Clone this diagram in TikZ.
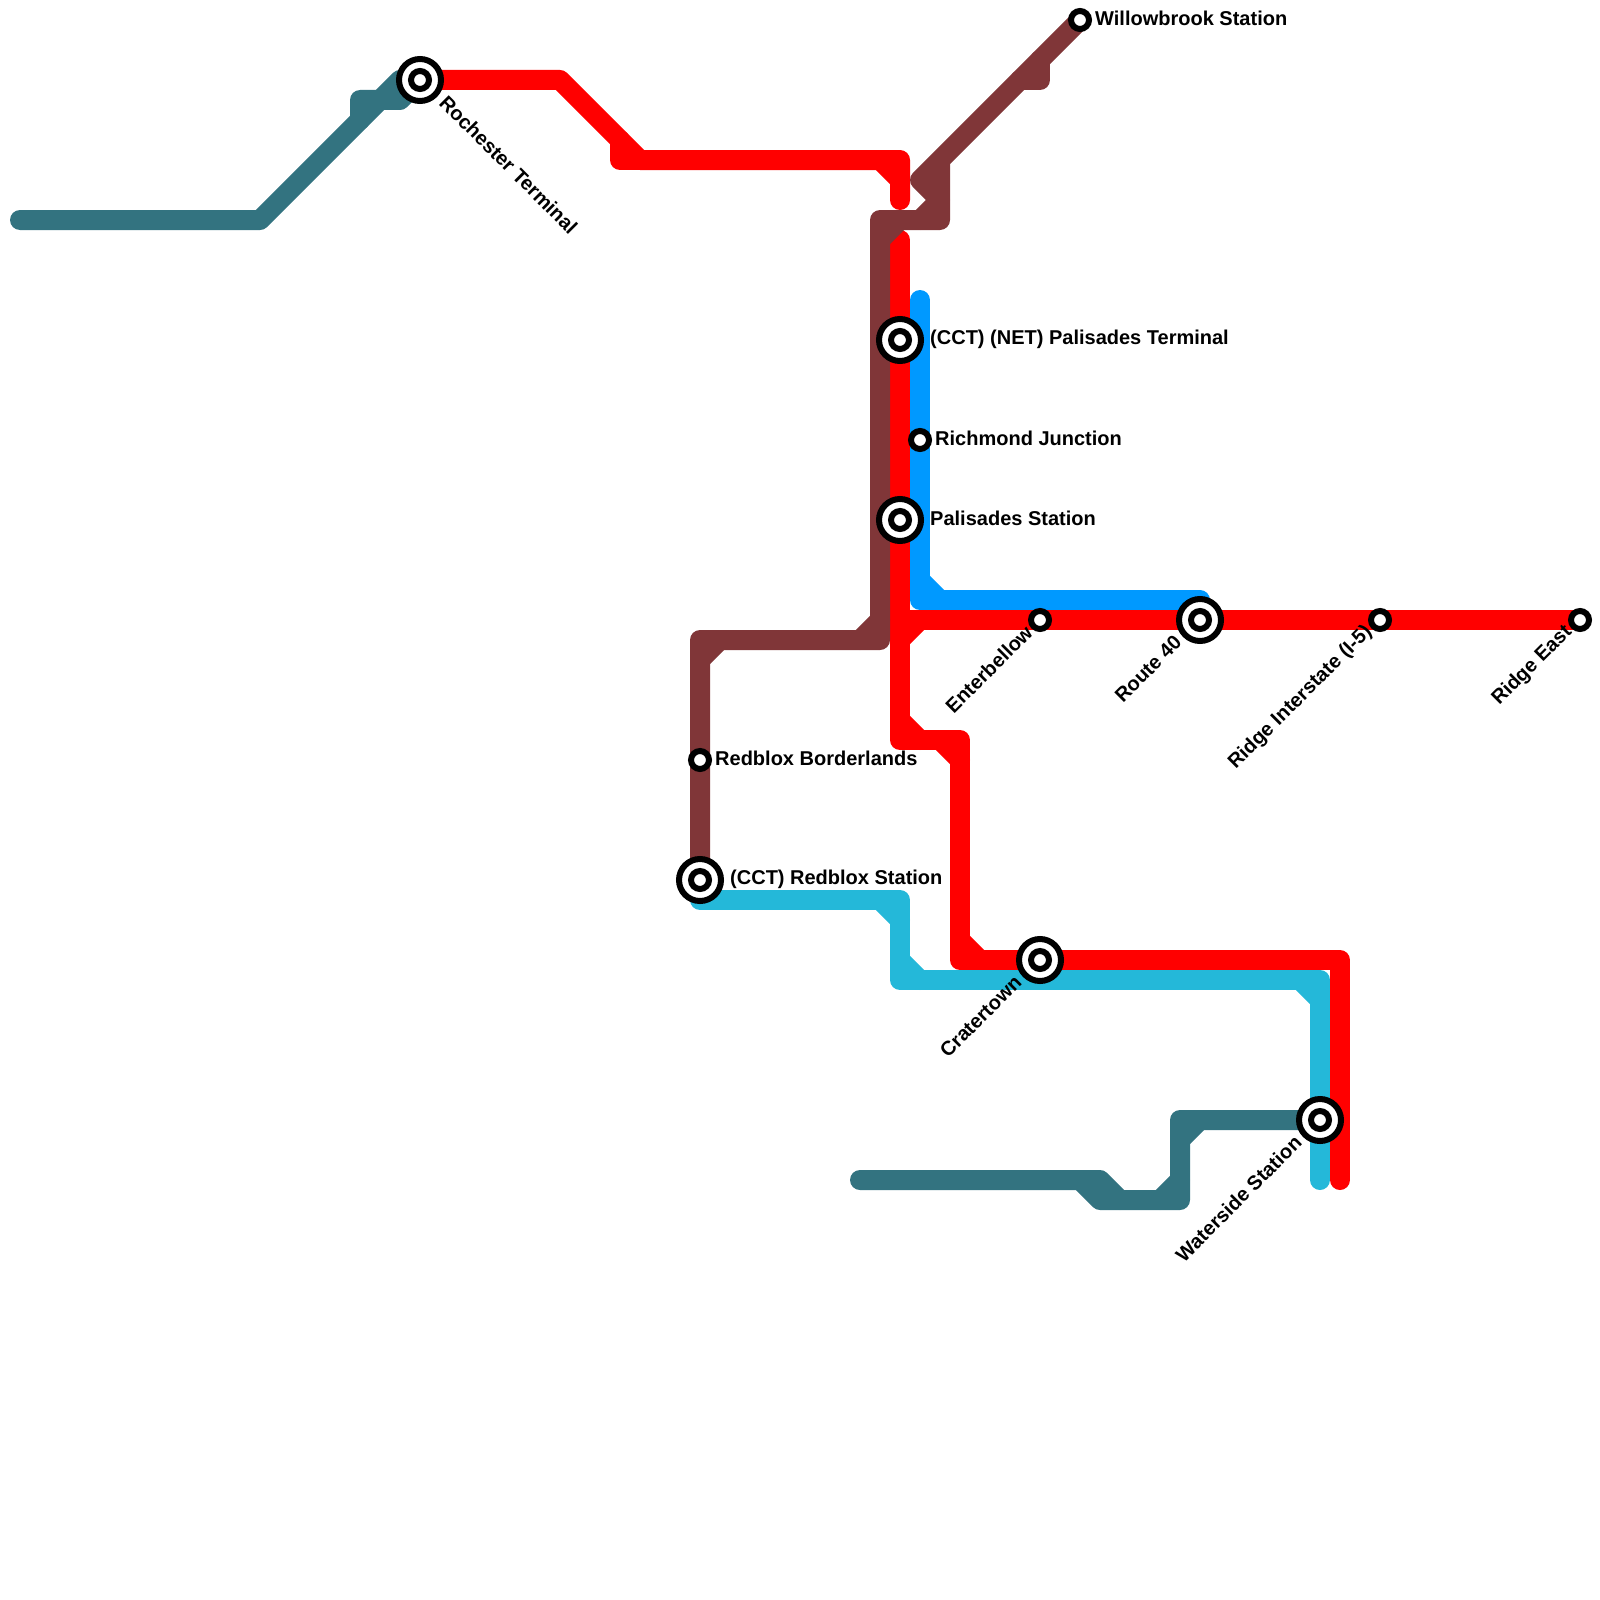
\documentclass[tikz,border=0pt]{standalone}
\usepackage{fontspec}
\setmainfont{Liberation Sans}
\usepackage{tikz}
\usepackage{xcolor}
\usetikzlibrary{calc,positioning}
\definecolor{metrored}{RGB}{255,0,0}
\definecolor{metrobrown}{RGB}{128,54,56}
\definecolor{metroteal}{RGB}{51,115,128}
\definecolor{metroblue}{RGB}{0,153,255}
\definecolor{metrocyan}{RGB}{36,184,217}

\begin{document}
\begin{tikzpicture}[
    x=1pt,y=-1pt,
    font=\fontsize{20}{24}\selectfont\bfseries,
    track/.style={line width=20pt,line join=round,line cap=round},
    redline/.style={track,draw=metrored},
    brownline/.style={track,draw=metrobrown},
    tealline/.style={track,draw=metroteal},
    blueline/.style={track,draw=metroblue},
    cyanline/.style={track,draw=metrocyan},
    halt/.style={
      circle,draw=black,fill=white,line width=6pt,
      minimum size=18pt,inner sep=0pt
    },
    terminus/.style={
      circle,draw=black,fill=white,line width=6pt,
      minimum size=42pt,inner sep=0pt,
      path picture={\draw[black,line width=6pt] (path picture bounding box.center) circle (9pt);}
    },
    sidelabel/.style={inner sep=0pt,yshift=2pt},
    biglabel/.style={inner sep=0pt,yshift=1pt},
    downlabel/.style={inner sep=0pt,rotate=-45,anchor=west},
    uplabel/.style={inner sep=0pt,rotate=45,anchor=east}
  ]
    \useasboundingbox (0,0) rectangle (1600,1600);

    % stations
    \coordinate (willow) at (1080,20);
    \coordinate (rochester) at (420,80);
    \coordinate (palterm) at (900,340);
    \coordinate (richmond) at (920,440);
    \coordinate (palstat) at (900,520);
    \coordinate (enter) at (1040,620);
    \coordinate (route) at (1200,620);
    \coordinate (ridgeint) at (1380,620);
    \coordinate (ridgeeast) at (1580,620);
    \coordinate (borderlands) at (700,760);
    \coordinate (redblox) at (700,880);
    \coordinate (crater) at (1040,960);
    \coordinate (waterside) at (1320,1120);

    % bends of the red line
    \coordinate (r1) at (560,80);
    \coordinate (r2) at (640,160);
    \coordinate (r3) at (620,160);
    \coordinate (r4) at (900,160);
    \coordinate (r5) at (900,200);
    \coordinate (r6) at (900,240);
    \coordinate (r7) at (900,740);
    \coordinate (r8) at (960,740);
    \coordinate (r9) at (960,960);
    \coordinate (r10) at (1340,960);
    \coordinate (r11) at (1340,1180);
    \coordinate (r12) at (900,620);

    % bends of the brown line
    \coordinate (b1) at (920,180);
    \coordinate (b2) at (940,160);
    \coordinate (b3) at (940,220);
    \coordinate (b4) at (880,220);
    \coordinate (b5) at (880,640);
    \coordinate (b6) at (700,640);
    \coordinate (b7) at (1040,80);

    % bends of the teal lines
    \coordinate (t1) at (20,220);
    \coordinate (t2) at (260,220);
    \coordinate (t3) at (400,80);
    \coordinate (t4) at (360,100);
    \coordinate (t5) at (400,100);
    \coordinate (t6) at (860,1180);
    \coordinate (t7) at (1100,1180);
    \coordinate (t8) at (1120,1200);
    \coordinate (t9) at (1180,1200);
    \coordinate (t10) at (1180,1120);
    \coordinate (t11) at (1100,1200);

    % bends of the blue and cyan lines
    \coordinate (n1) at (920,300);
    \coordinate (n2) at (920,600);
    \coordinate (n3) at (1200,600);
    \coordinate (c1) at (700,900);
    \coordinate (c2) at (900,900);
    \coordinate (c3) at (900,980);
    \coordinate (c4) at (1320,980);
    \coordinate (c5) at (1320,1180);

    \draw[redline] (rochester) -- (r1) -- (r2) -- (r4) -- (r5);
    \draw[redline] ($(r3)+(0,-20)$) -- (r3) -- (r2);
    \draw[redline] ($(r4)+(-20,0)$) -- ($(r4)+(0,20)$);
    \draw[redline] (r6) -- (r7) -- (r8) -- (r9) -- (r10) -- (r11);
    \draw[redline] (r12) -- (ridgeeast);
    \draw[redline] ($(r12)+(0,20)$) -- ($(r12)+(20,0)$);
    \draw[redline] ($(r7)+(0,-20)$) -- ($(r7)+(20,0)$);
    \draw[redline] ($(r8)+(-20,0)$) -- ($(r8)+(0,20)$);
    \draw[redline] ($(r9)+(0,-20)$) -- ($(r9)+(20,0)$);

    \draw[blueline] (n1) -- (n2) -- (n3);
    \draw[blueline] ($(n2)+(0,-20)$) -- ($(n2)+(20,0)$);

    \draw[cyanline] (c1) -- (c2) -- (c3) -- (c4) -- (c5);
    \draw[cyanline] ($(c2)+(-20,0)$) -- ($(c2)+(0,20)$);
    \draw[cyanline] ($(c3)+(0,-20)$) -- ($(c3)+(20,0)$);
    \draw[cyanline] ($(c4)+(-20,0)$) -- ($(c4)+(0,20)$);

    \draw[brownline] (willow) -- (b1) -- ($(b2)+(0,40)$) -- (b2) -- (b3) -- (b4) -- (b5) -- (b6) -- (redblox);
    \draw[brownline] ($(b7)+(0,-20)$) -- (b7) -- ($(b7)+(-20,0)$);
    \draw[brownline] ($(b3)+(0,-20)$) -- ($(b3)+(-20,0)$);
    \draw[brownline] ($(b4)+(20,0)$) -- ($(b4)+(0,20)$);
    \draw[brownline] ($(b5)+(-20,0)$) -- ($(b5)+(0,-20)$);
    \draw[brownline] ($(b6)+(20,0)$) -- ($(b6)+(0,20)$);

    \draw[tealline] (t1) -- (t2) -- (t3) -- (rochester);
    \draw[tealline] ($(t4)+(0,20)$) -- (t4) -- (t5) -- (rochester);
    \draw[tealline] (t6) -- (t7) -- (t8) -- (t9) -- (t10) -- (waterside);
    \draw[tealline] ($(t7)+(-20,0)$) -- (t11) -- (t8);
    \draw[tealline] ($(t9)+(-20,0)$) -- ($(t9)+(0,-20)$);
    \draw[tealline] ($(t10)+(0,20)$) -- ($(t10)+(20,0)$);

    \node[halt] (willowstop) at (willow) {};
    \node[terminus] (rochesterstop) at (rochester) {};
    \node[terminus] (paltermstop) at (palterm) {};
    \node[halt] (richmondstop) at (richmond) {};
    \node[terminus] (palstatstop) at (palstat) {};
    \node[halt] (enterstop) at (enter) {};
    \node[terminus] (routestop) at (route) {};
    \node[halt] (ridgeintstop) at (ridgeint) {};
    \node[halt] (ridgeeaststop) at (ridgeeast) {};
    \node[halt] (borderlandsstop) at (borderlands) {};
    \node[terminus] (redbloxstop) at (redblox) {};
    \node[terminus] (craterstop) at (crater) {};
    \node[terminus] (watersidestop) at (waterside) {};

    \node[sidelabel,right=3pt of willowstop] (willowlabel) {Willowbrook Station};
    \node[biglabel,right=6pt of paltermstop] (paltermlabel) {(CCT) (NET) Palisades Terminal};
    \node[sidelabel,right=3pt of richmondstop] (richmondlabel) {Richmond Junction};
    \node[sidelabel,right=6pt of palstatstop] (palstatlabel) {Palisades Station};
    \node[sidelabel,right=3pt of borderlandsstop] (borderlandslabel) {Redblox Borderlands};
    \node[biglabel,right=6pt of redbloxstop] (redbloxlabel) {(CCT) Redblox Station};
    \node[downlabel] (rochesterlabel) at ($(rochester)+(23,19)$) {Rochester Terminal};
    \node[uplabel] (enterlabel) at ($(enter)+(-11,9)$) {Enterbellow};
    \node[uplabel] (routelabel) at ($(route)+(-22,19)$) {Route 40};
    \node[uplabel] (ridgeintlabel) at ($(ridgeint)+(-11,9)$) {Ridge Interstate (I-5)};
    \node[uplabel] (ridgeeastlabel) at ($(ridgeeast)+(-11,9)$) {Ridge East};
    \node[uplabel] (craterlabel) at ($(crater)+(-22,19)$) {Cratertown};
    \node[uplabel] (watersidelabel) at ($(waterside)+(-22,19)$) {Waterside Station};
  \end{tikzpicture}
\end{document}
